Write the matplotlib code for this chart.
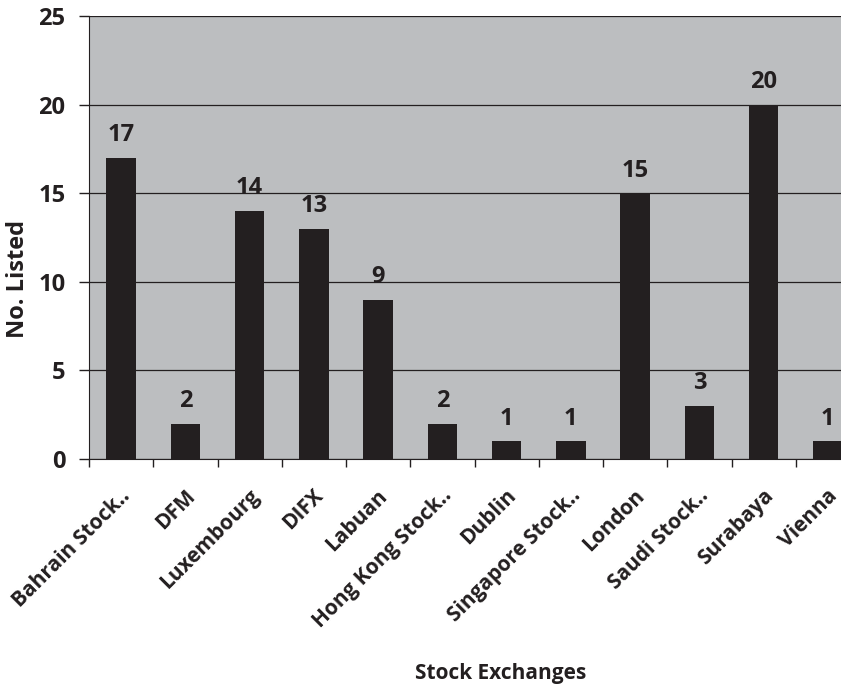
import numpy as np
import matplotlib
matplotlib.use("Agg")
import matplotlib.pyplot as plt
import matplotlib.transforms as mtransforms

# datos del grafico
exchanges = ["Bahrain Stock..", "DFM", "Luxembourg", "DIFX", "Labuan",
             "Hong Kong Stock..", "Dublin", "Singapore Stock..", "London",
             "Saudi Stock..", "Surabaya", "Vienna"]
listed = [17, 2, 14, 13, 9, 2, 1, 1, 15, 3, 20, 1]

dark = "#231f20"
plt.rcParams['font.family'] = ['Open Sans', 'DejaVu Sans']
plt.rcParams['font.weight'] = 'bold'

fig = plt.figure(figsize=(8.41, 6.90), dpi=100)
ax = fig.add_axes([89 / 841, 231 / 690, 771 / 841, 443 / 690])
ax.set_facecolor("#bcbec0")

x = np.arange(len(exchanges))
ax.bar(x, listed, width=0.46, color=dark, zorder=3)
for xi, v in zip(x, listed):
    ax.text(xi, v + 0.6, str(v), ha="center", va="bottom", fontsize=17,
            fontweight="bold", color=dark)

ax.set_xlim(-0.5, len(exchanges) - 0.5)
ax.set_ylim(0, 25)
ax.set_yticks([0, 5, 10, 15, 20, 25])
ax.yaxis.grid(True, color=dark, linewidth=0.9, zorder=1)
ax.set_axisbelow(True)

ax.set_xticks(np.arange(len(exchanges) + 1) - 0.5)
ax.set_xticklabels([])
ax.set_xticks(x, minor=True)
ax.set_xticklabels(exchanges, minor=True, rotation=45, ha="right",
                   rotation_mode="anchor", fontsize=15, fontweight="bold",
                   color=dark)
ax.tick_params(axis="x", which="minor", length=0, pad=19)
ax.tick_params(axis="x", which="major", length=6, width=1, color=dark)
ax.tick_params(axis="y", length=7, width=1, color=dark, labelsize=17,
               labelcolor=dark, pad=10)
shift = mtransforms.ScaledTranslation(-1 / 100, 0, fig.dpi_scale_trans)
for lab in ax.get_xticklabels(minor=True):
    lab.set_transform(lab.get_transform() + shift)

for s in ["top", "right"]:
    ax.spines[s].set_visible(False)
ax.spines["left"].set_color(dark)
ax.spines["bottom"].set_color(dark)

fig.text(18 / 841, 1 - 279 / 690, "No. Listed", rotation=90, ha="center",
         va="center", fontsize=17, fontweight="bold", color=dark)
fig.text(501 / 841, 1 - 673 / 690, "Stock Exchanges", ha="center",
         va="center", fontsize=15, fontweight="bold", color=dark)

fig.savefig("out.png", dpi=100)
